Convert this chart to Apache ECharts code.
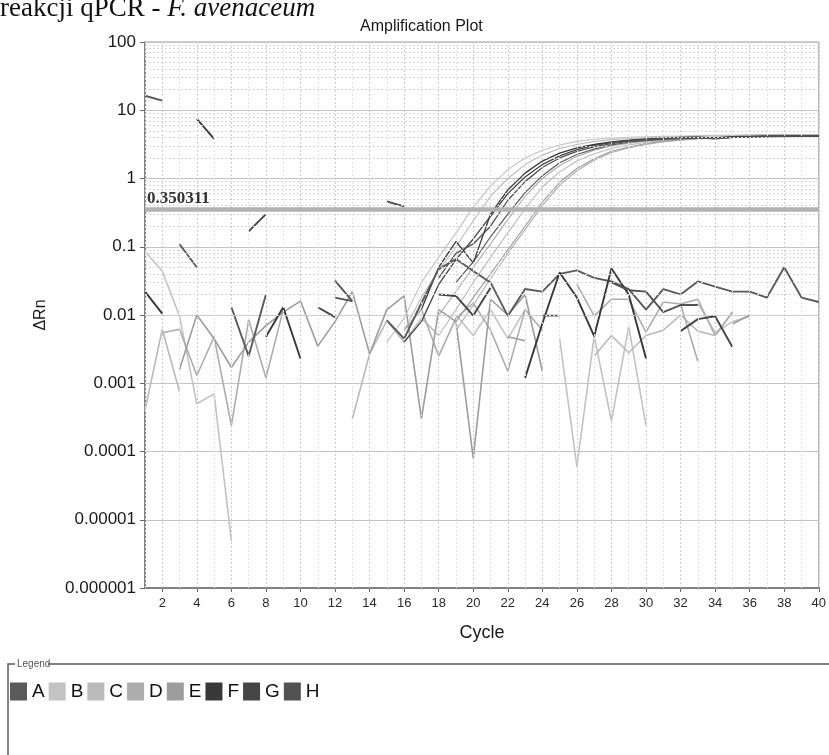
<!DOCTYPE html>
<html>
<head>
<meta charset="utf-8">
<title>Amplification Plot</title>
<script src="https://cdn.jsdelivr.net/npm/echarts@6/dist/echarts.min.js"></script>
<style>
  html, body { margin: 0; padding: 0; background: #ffffff; }
  #chart { width: 829px; height: 755px; }
</style>
</head>
<body>
<div id="chart"></div>
<script>
// Cycle axis
const cycles = [1, 2, 3, 4, 5, 6, 7, 8, 9, 10, 11, 12, 13, 14, 15, 16, 17, 18, 19, 20,
                21, 22, 23, 24, 25, 26, 27, 28, 29, 30, 31, 32, 33, 34, 35, 36, 37, 38, 39, 40];
const cycleTicks = [2, 4, 6, 8, 10, 12, 14, 16, 18, 20, 22, 24, 26, 28, 30, 32, 34, 36, 38, 40];

// Delta Rn axis (log)
const decades = [0.000001, 0.00001, 0.0001, 0.001, 0.01, 0.1, 1, 10];
const minorSteps = [2, 3, 4, 5, 6, 7, 8, 9];
const threshold = 0.350311;

// Legend groups
const groupNames = ['A', 'B', 'C', 'D', 'E', 'F', 'G', 'H'];
const groupColors = {
  A: '#5a5a5a', B: '#c3c3c3', C: '#bababa', D: '#adadad',
  E: '#9d9d9d', F: '#383838', G: '#454545', H: '#525252'
};

// Wells: each segment is [first cycle, value, value, ...]; a gap between
// segments means the reading was not positive (not drawn on a log axis).
const wellA1 = [[1, 16.3, 13.8],
  [15, 0.0083, 0.0045, 0.015, 0.047, 0.066, 0.044, 0.030, 0.0097, 0.024, 0.022, 0.040, 0.045, 0.035,
       0.031, 0.024, 0.012, 0.024, 0.020, 0.031, 0.026, 0.022, 0.022, 0.018, 0.050, 0.018, 0.0155]];
const wellA2 = [[19, 0.03, 0.06, 0.14, 0.3, 0.62, 1.1, 1.7, 2.25, 2.7, 3.1, 3.4, 3.6, 3.75, 3.85,
       3.9, 3.95, 4.0, 4.05, 4.1, 4.1, 4.15, 4.15]];
const wellA3 = [[3, 0.109, 0.050], [6, 0.013, 0.0025, 0.020], [12, 0.032, 0.016]];

const wellB1 = [[15, 0.004, 0.009, 0.03, 0.07, 0.16, 0.38, 0.78, 1.35, 2.0, 2.6, 3.1, 3.5, 3.75, 3.9,
       4.0, 4.1, 4.15, 4.2, 4.25, 4.3, 4.3, 4.35, 4.4, 4.45, 4.4, 4.4]];
const wellB2 = [[1, 0.085, 0.044, 0.0096, 0.0005, 0.0007, 0.0000049],
  [25, 0.0045, 0.00006, 0.0049, 0.00028, 0.0068, 0.00024]];
const wellB3 = [[19, 0.01, 0.005, 0.012, 0.0045, 0.012], [33, 0.015, 0.0055, 0.008, 0.0095]];

const wellC1 = [[16, 0.006, 0.018, 0.045, 0.1, 0.24, 0.55, 1.0, 1.6, 2.2, 2.75, 3.15, 3.5, 3.7, 3.85,
       3.95, 4.05, 4.1, 4.15, 4.2, 4.25, 4.3, 4.35, 4.4, 4.35, 4.35]];
const wellC2 = [[18, 0.005, 0.012, 0.03, 0.07, 0.16, 0.36, 0.75, 1.25, 1.8, 2.3, 2.75, 3.1, 3.4, 3.6,
       3.75, 3.9, 4.0, 4.05, 4.1, 4.15, 4.2, 4.2, 4.25]];
const wellC3 = [[1, 0.0004, 0.0062, 0.00075], [13, 0.0003, 0.0027, 0.0083, 0.004, 0.009, 0.005],
  [27, 0.0025, 0.005, 0.0028, 0.005, 0.006, 0.01, 0.0058, 0.005, 0.011]];

const wellD1 = [[18, 0.01, 0.022, 0.05, 0.11, 0.25, 0.55, 1.0, 1.55, 2.1, 2.6, 3.0, 3.3, 3.55, 3.7,
       3.85, 3.95, 4.0, 4.05, 4.1, 4.15, 4.2, 4.25, 4.25]];
const wellD2 = [[19, 0.006, 0.014, 0.034, 0.08, 0.18, 0.4, 0.8, 1.3, 1.85, 2.4, 2.8, 3.15, 3.45, 3.65,
       3.8, 3.9, 4.0, 4.05, 4.1, 4.15, 4.2, 4.2]];
const wellD3 = [[2, 0.0055, 0.0062, 0.0013, 0.0048, 0.00024, 0.0085, 0.0012, 0.012],
  [26, 0.028, 0.0097, 0.017, 0.017, 0.0056, 0.0155, 0.0145, 0.0021]];
const wellD4 = [[16, 0.006, 0.012, 0.0025, 0.009, 0.015, 0.006, 0.0015, 0.012, 0.006],
  [32, 0.0145, 0.017, 0.005, 0.011]];

const wellE1 = [[19, 0.008, 0.018, 0.04, 0.09, 0.2, 0.45, 0.88, 1.4, 1.95, 2.5, 2.9, 3.25, 3.5, 3.7,
       3.85, 3.95, 4.05, 4.1, 4.15, 4.2, 4.25, 4.25]];
const wellE2 = [[3, 0.0016, 0.010, 0.0045, 0.0017, 0.004, 0.007, 0.011, 0.016, 0.0035, 0.008, 0.022,
       0.0027, 0.012, 0.019, 0.0003, 0.012, 0.008, 0.00008, 0.017, 0.01, 0.02, 0.0015],
  [35, 0.0074, 0.010]];
const wellE3 = [[22, 0.0048, 0.0042]];

const wellF1 = [[17, 0.012, 0.05, 0.12, 0.058, 0.3, 0.68, 1.2, 1.8, 2.35, 2.8, 3.15, 3.45, 3.65, 3.8,
       3.9, 4.0, 4.05, 3.95, 4.1, 4.15, 4.2, 4.2, 4.25, 4.25]];
const wellF2 = [[1, 0.022, 0.0105], [4, 7.5, 3.8], [8, 0.0048, 0.013, 0.0023],
  [23, 0.0012, 0.0075, 0.042, 0.018, 0.0049, 0.048, 0.02, 0.0023]];

const wellG1 = [[16, 0.004, 0.008, 0.028, 0.065, 0.13, 0.28, 0.6, 1.05, 1.6, 2.15, 2.65, 3.05, 3.35,
       3.6, 3.75, 3.85, 3.95, 4.0, 3.85, 4.0, 4.1, 4.15, 4.15, 4.2, 4.2]];
const wellG2 = [[7, 0.168, 0.30], [11, 0.013, 0.0093], [18, 0.02, 0.019, 0.0098, 0.025],
  [32, 0.0058, 0.0087, 0.0096, 0.0034]];

const wellH1 = [[18, 0.035, 0.08, 0.11, 0.2, 0.48, 0.9, 1.45, 2.0, 2.5, 2.9, 3.25, 3.5, 3.7, 3.8,
       3.9, 3.95, 3.8, 4.0, 4.05, 4.1, 4.15, 4.2, 4.2]];
const wellH2 = [[12, 0.018, 0.016], [15, 0.46, 0.39], [24, 0.0098, 0.0098],
  [28, 0.03, 0.023, 0.022, 0.011, 0.014, 0.014]];

// Drawing order: light traces underneath, dark traces on top
const wells = [
  { group: 'B', segs: wellB2, w: 1.6 }, { group: 'B', segs: wellB3, w: 1.6 },
  { group: 'C', segs: wellC3, w: 1.6 },
  { group: 'D', segs: wellD3, w: 1.6 }, { group: 'D', segs: wellD4, w: 1.6 },
  { group: 'E', segs: wellE2, w: 1.6 }, { group: 'E', segs: wellE3, w: 1.6 },
  { group: 'B', segs: wellB1, w: 1.1 }, { group: 'C', segs: wellC1, w: 1.1 },
  { group: 'C', segs: wellC2, w: 1.1 }, { group: 'D', segs: wellD1, w: 1.1 },
  { group: 'D', segs: wellD2, w: 1.1 }, { group: 'E', segs: wellE1, w: 1.1 },
  { group: 'A', segs: wellA2, w: 1.2 }, { group: 'F', segs: wellF1, w: 1.3 },
  { group: 'G', segs: wellG1, w: 1.3 }, { group: 'H', segs: wellH1, w: 1.3 },
  { group: 'A', segs: wellA1, w: 1.9 }, { group: 'A', segs: wellA3, w: 1.9 },
  { group: 'F', segs: wellF2, w: 1.9 }, { group: 'G', segs: wellG2, w: 1.9 },
  { group: 'H', segs: wellH2, w: 1.9 }
];

function wellData(segs) {
  const rows = cycles.map(c => [c, null]);
  segs.forEach(seg => {
    seg.slice(1).forEach((v, k) => { rows[seg[0] - 1 + k][1] = v; });
  });
  return rows;
}

const sans = "'Liberation Sans', Arial, sans-serif";
const narrow = "'Liberation Sans Narrow', 'Liberation Sans', Arial, sans-serif";
const serif = "'Liberation Serif', 'Times New Roman', serif";

const minorLines = [];
decades.forEach(d => minorSteps.forEach(m => minorLines.push({ yAxis: m * d })));
const cycleLines = cycles.map(c => ({
  xAxis: c,
  lineStyle: { color: c % 2 === 0 ? '#cdcdcd' : '#e0e0e0', type: [2, 2], width: 1 }
}));

const series = [];
series.push({
  name: 'grid', type: 'line', data: [], silent: true, z: 1,
  markLine: {
    silent: true, symbol: ['none', 'none'], animation: false,
    label: { show: false },
    lineStyle: { color: '#d6d6d6', type: [2, 2], width: 1 },
    data: minorLines.concat(cycleLines)
  }
});
wells.forEach(wl => {
  series.push({
    name: wl.group, type: 'line', data: wellData(wl.segs),
    showSymbol: false, symbol: 'none', connectNulls: false, animation: false,
    lineStyle: { color: groupColors[wl.group], width: wl.w },
    itemStyle: { color: groupColors[wl.group] },
    emphasis: { disabled: true }, z: 2
  });
});
series.push({
  name: 'threshold', type: 'line', data: [], silent: true, z: 5,
  markLine: {
    silent: true, symbol: ['none', 'none'], animation: false,
    data: [{ yAxis: threshold }],
    lineStyle: { color: '#b2b2b2', width: 4.5, type: 'solid' },
    label: {
      show: true, position: 'insideStartTop', distance: [2, 3],
      formatter: String(threshold),
      fontFamily: serif, fontWeight: 'bold', fontSize: 17, color: '#333333'
    }
  }
});

const chart = echarts.init(document.getElementById('chart'), null, { renderer: 'canvas' });
chart.setOption({
  animation: false,
  backgroundColor: '#ffffff',
  title: {
    text: 'Amplification Plot', left: 355, top: 14,
    textStyle: { fontFamily: sans, fontSize: 16, fontWeight: 'normal', color: '#1a1a1a' }
  },
  grid: {
    left: 145, right: 8, top: 42, bottom: 167,
    show: true, borderColor: '#a0a0a0', borderWidth: 1, backgroundColor: 'transparent'
  },
  xAxis: {
    type: 'value', min: 1, max: 40, interval: 1,
    name: 'Cycle', nameLocation: 'middle', nameGap: 36,
    nameTextStyle: { fontFamily: narrow, fontSize: 18, color: '#1a1a1a' },
    axisLine: { show: true, lineStyle: { color: '#6a6a6a', width: 1.5 } },
    axisTick: { show: true, length: 4, customValues: cycleTicks, lineStyle: { color: '#6a6a6a' } },
    axisLabel: { customValues: cycleTicks, fontFamily: narrow, fontSize: 13, color: '#2a2a2a', margin: 9 },
    splitLine: { show: false }
  },
  yAxis: {
    type: 'log', logBase: 10, min: 0.000001, max: 100, interval: 1,
    name: 'ΔRn', nameLocation: 'middle', nameGap: 96, nameRotate: 90,
    nameTextStyle: { fontFamily: sans, fontSize: 16, color: '#1a1a1a' },
    axisLine: { show: true, lineStyle: { color: '#6a6a6a', width: 1.5 } },
    axisTick: { show: true, length: 5, lineStyle: { color: '#6a6a6a' } },
    axisLabel: {
      fontFamily: sans, fontSize: 17, color: '#1a1a1a', margin: 9,
      formatter: v => {
        const e = Math.round(Math.log10(v));
        return e >= 0 ? '1' + '0'.repeat(e) : '0.' + '0'.repeat(-e - 1) + '1';
      }
    },
    splitLine: { show: true, lineStyle: { color: '#c4c4c4', width: 1 } }
  },
  legend: {
    data: groupNames, left: 5, top: 677, icon: 'rect',
    itemWidth: 17, itemHeight: 18, itemGap: 4, selectedMode: false,
    textStyle: { fontFamily: narrow, fontSize: 19, color: '#111111', width: 14 }
  },
  graphic: [
    {
      type: 'text', left: 0, top: -5, z: 10,
      style: {
        text: '{n|reakcji qPCR - }{i|F. avenaceum}',
        rich: {
          n: { fontFamily: serif, fontSize: 27, fill: '#111111' },
          i: { fontFamily: serif, fontSize: 27, fontStyle: 'italic', fill: '#111111' }
        }
      }
    },
    {
      type: 'rect', z: 0, silent: true,
      shape: { x: 8, y: 664, width: 840, height: 120 },
      style: { fill: 'none', stroke: '#5a5a5a', lineWidth: 1.5 }
    },
    {
      type: 'rect', z: 1, silent: true,
      shape: { x: 15, y: 657, width: 33, height: 14 },
      style: { fill: '#ffffff' }
    },
    {
      type: 'text', z: 2, silent: true, x: 17, y: 664,
      style: { text: 'Legend', fontFamily: narrow, fontSize: 10, fill: '#555555', verticalAlign: 'middle' }
    }
  ],
  series: series
});
</script>
</body>
</html>
